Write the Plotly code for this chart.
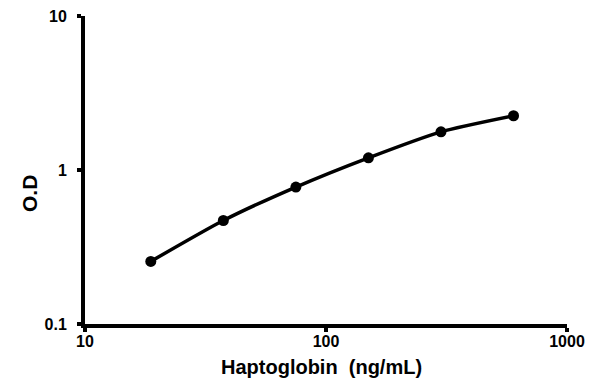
import plotly.graph_objects as go

concentration = [18.75, 37.5, 75, 150, 300, 600]
od = [0.255, 0.47, 0.775, 1.2, 1.77, 2.25]
x_ticks = [10, 100, 1000]
y_ticks = [0.1, 1, 10]
x_title = "Haptoglobin\u00a0 (ng/mL)"
y_title = "O.D"

fig = go.Figure()
fig.add_trace(go.Scatter(
    x=concentration, y=od, mode="lines+markers",
    line=dict(color="black", width=3.5, shape="spline", smoothing=0.6),
    marker=dict(color="black", size=11),
    showlegend=False, cliponaxis=False,
))

font_family = "Liberation Sans, Arial, sans-serif"
axis_common = dict(
    type="log", showgrid=False, zeroline=False, automargin=False,
    showline=True, linecolor="black", linewidth=4,
    ticks="outside", ticklen=4, tickwidth=4, tickcolor="black",
    ticklabeloverflow="allow",
    tickfont=dict(family=font_family, size=16, color="black", weight="bold"),
)
fig.update_xaxes(range=[1, 3], tickvals=x_ticks, ticktext=[str(v) for v in x_ticks],
                 ticklabelstandoff=-4, **axis_common)
fig.update_yaxes(range=[-1, 1], tickvals=y_ticks, ticktext=["0.1", "1", "10"],
                 ticklabelstandoff=7, **axis_common)

title_font = dict(family=font_family, size=20, color="black", weight="bold")
fig.add_annotation(text=x_title, xref="paper", yref="paper", x=0.5, y=0,
                   xshift=-5, yshift=-43, xanchor="center", yanchor="middle",
                   showarrow=False, font=title_font)
fig.add_annotation(text=y_title, xref="paper", yref="paper", x=0, y=0.422,
                   xshift=-56, xanchor="center", yanchor="middle", textangle=-90,
                   showarrow=False, font=dict(family=font_family, size=21, color="black", weight="bold"))

fig.update_layout(
    width=585, height=375,
    margin=dict(l=77, r=26, t=8, b=59),
    paper_bgcolor="white", plot_bgcolor="white",
)
fig.write_html("out.html")
